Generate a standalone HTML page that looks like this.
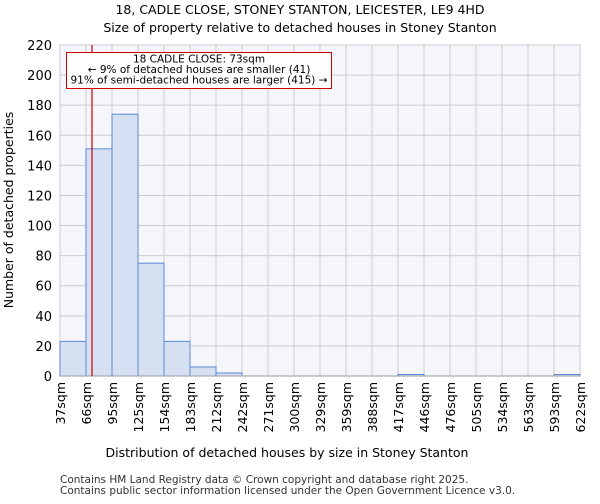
<!DOCTYPE html>
<html><head><meta charset="utf-8"><style>
body{margin:0;background:#fff;font-family:"DejaVu Sans","Liberation Sans",sans-serif}
</style></head><body>
<svg id="c" width="600" height="500" xmlns="http://www.w3.org/2000/svg" font-family="DejaVu Sans, Liberation Sans, sans-serif">
<text x="300" y="14" text-anchor="middle" font-size="12.5">18, CADLE CLOSE, STONEY STANTON, LEICESTER, LE9 4HD</text>
<text x="300" y="32" text-anchor="middle" font-size="12.5">Size of property relative to detached houses in Stoney Stanton</text>
<g id="plot"></g>
<text x="287" y="457" text-anchor="middle" font-size="12.5">Distribution of detached houses by size in Stoney Stanton</text>
<text transform="translate(13,210) rotate(-90)" text-anchor="middle" font-size="12.5">Number of detached properties</text>
<text x="60" y="483" font-size="10.5" fill="#333">Contains HM Land Registry data © Crown copyright and database right 2025.</text>
<text x="60" y="494" font-size="10.5" fill="#333">Contains public sector information licensed under the Open Government Licence v3.0.</text>
</svg>
<script>
const binLabels=["37sqm","66sqm","95sqm","125sqm","154sqm","183sqm","212sqm","242sqm","271sqm","300sqm","329sqm","359sqm","388sqm","417sqm","446sqm","476sqm","505sqm","534sqm","563sqm","593sqm","622sqm"];
const binEdges=[37,66.25,95.5,124.75,154,183.25,212.5,241.75,271,300.25,329.5,358.75,388,417.25,446.5,475.75,505,534.25,563.5,592.75,622];
const counts=[23,151,174,75,23,6,2,0,0,0,0,0,0,1,0,0,0,0,0,1];
const yTicks=[0,20,40,60,80,100,120,140,160,180,200,220];
const subjectSize=73;
const NS="http://www.w3.org/2000/svg";
const L=60,R=580,T=45,B=376;
const xs=v=>L+(v-binEdges[0])/(binEdges[binEdges.length-1]-binEdges[0])*(R-L);
const ys=v=>B-v/220*(B-T);
const g=document.getElementById('plot');
function mk(t,a){const e=document.createElementNS(NS,t);for(const k in a)e.setAttribute(k,a[k]);g.appendChild(e);return e;}
let bg=mk('rect',{x:L,y:T,width:R-L,height:B-T,fill:'#f4f6fc'});


yTicks.forEach(t=>{
 let l=mk('line',{x1:L,x2:R,y1:ys(t),y2:ys(t),stroke:'#ccc','stroke-width':1});
 
 
 let tx=mk('text',{x:L-8,y:ys(t)+5,'text-anchor':'end','font-size':13});
 tx.textContent=t;
 
 
});
binEdges.forEach((e,i)=>{
 let l=mk('line',{x1:xs(e),x2:xs(e),y1:T,y2:B,stroke:'#ccc','stroke-width':1});
 
 
 let tx=mk('text',{transform:`translate(${xs(e)+5},${B+6}) rotate(-90)`,'text-anchor':'end','font-size':12.5});
 tx.textContent=binLabels[i];
 
 
});
counts.forEach((c,i)=>{
 if(c<=0)return;
 let r=mk('rect',{x:xs(binEdges[i]),y:ys(c),width:xs(binEdges[i+1])-xs(binEdges[i]),height:B-ys(c),fill:'#d6e0f3',stroke:'#5a8ad4','stroke-width':1});
 
 
});
let ax=mk('line',{x1:L,x2:R,y1:B,y2:B,stroke:'#999'});


let ml=mk('line',{x1:xs(subjectSize),x2:xs(subjectSize),y1:T,y2:B,stroke:'#cc0000','stroke-width':1.2});


let box=mk('rect',{x:66.5,y:52.5,width:265,height:36,fill:'#fff',stroke:'#cc0000','stroke-width':1});


["18 CADLE CLOSE: 73sqm","← 9% of detached houses are smaller (41)","91% of semi-detached houses are larger (415) →"].forEach((s,i)=>{
 let t=mk('text',{x:199,y:62.5+i*10.5,'text-anchor':'middle','font-size':10.5});
 t.textContent=s;
 
 
});
</script>
</body></html>
